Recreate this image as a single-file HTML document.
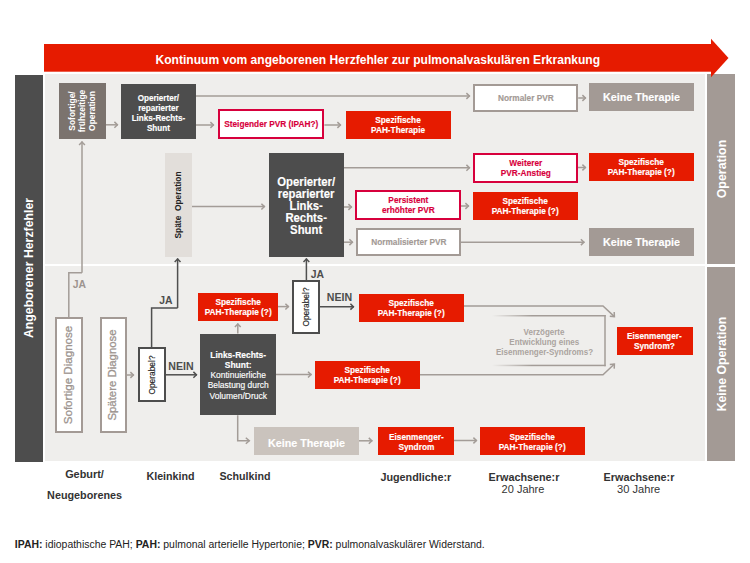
<!DOCTYPE html>
<html><head><meta charset="utf-8"><style>
html,body{margin:0;padding:0;background:#fff;}
body{width:750px;height:563px;position:relative;overflow:hidden;font-family:"Liberation Sans",sans-serif;}
</style></head><body>
<div style="position:absolute;left:45.3px;top:74.2px;width:660.20px;height:387.10px;background:#efeeec;"></div>
<div style="position:absolute;left:45.3px;top:264.2px;width:660.20px;height:2.20px;background:#fff;"></div>
<div style="position:absolute;left:15.2px;top:74.5px;width:28.00px;height:387.00px;background:#4d4d4d;"></div>
<div style="position:absolute;left:706.9px;top:74.3px;width:28.10px;height:189.70px;background:#a39a95;"></div>
<div style="position:absolute;left:706.9px;top:266.9px;width:28.10px;height:194.60px;background:#a39a95;"></div>
<div style="position:absolute;left:29.2px;top:268px;width:0;height:0"><div style="position:absolute;left:0;top:0;transform:translate(-50%,-50%) rotate(-90deg) scaleX(1);text-align:center;white-space:nowrap;font-size:12.3px;line-height:14.76px;font-weight:700;color:#fff;letter-spacing:0px;-webkit-text-stroke:0px #fff">Angeborener Herzfehler</div></div>
<div style="position:absolute;left:722px;top:168.5px;width:0;height:0"><div style="position:absolute;left:0;top:0;transform:translate(-50%,-50%) rotate(-90deg) scaleX(1);text-align:center;white-space:nowrap;font-size:12.4px;line-height:14.879999999999999px;font-weight:700;color:#fff;letter-spacing:0px;-webkit-text-stroke:0px #fff">Operation</div></div>
<div style="position:absolute;left:722px;top:364px;width:0;height:0"><div style="position:absolute;left:0;top:0;transform:translate(-50%,-50%) rotate(-90deg) scaleX(1);text-align:center;white-space:nowrap;font-size:12.25px;line-height:14.7px;font-weight:700;color:#fff;letter-spacing:0px;-webkit-text-stroke:0px #fff">Keine Operation</div></div>
<div style="position:absolute;left:59px;top:83px;width:47.00px;height:56.00px;box-sizing:border-box;background:#7b736e;display:flex;align-items:center;justify-content:center;text-align:center;white-space:nowrap;color:#fff;font-size:9.2px;line-height:10px;font-weight:700;letter-spacing:0px;"><span style="position:relative;top:0.2px;display:inline-block;transform:scaleX(0.9);-webkit-text-stroke:0.15px #fff"></span></div>
<div style="position:absolute;left:82.2px;top:111.2px;width:0;height:0"><div style="position:absolute;left:0;top:0;transform:translate(-50%,-50%) rotate(-90deg) scaleX(0.95);text-align:center;white-space:nowrap;font-size:8.9px;line-height:10px;font-weight:700;color:#fff;letter-spacing:0px;-webkit-text-stroke:0px #fff">Sofortige/<br>frühzeitige<br>Operation</div></div>
<div style="position:absolute;left:121px;top:84px;width:75.00px;height:55.40px;box-sizing:border-box;background:#4d4d4d;display:flex;align-items:center;justify-content:center;text-align:center;white-space:nowrap;color:#fff;font-size:9.2px;line-height:10.1px;font-weight:700;letter-spacing:0px;"><span style="position:relative;top:1.2px;display:inline-block;transform:scaleX(0.88);-webkit-text-stroke:0.15px #fff">Operierter/<br>reparierter<br>Links-Rechts-<br>Shunt</span></div>
<div style="position:absolute;left:218px;top:109.3px;width:106.40px;height:29.50px;box-sizing:border-box;background:#fff;border:2px solid #d7003c;display:flex;align-items:center;justify-content:center;text-align:center;white-space:nowrap;color:#d7003c;font-size:9.2px;line-height:10px;font-weight:700;letter-spacing:0px;"><span style="position:relative;top:0.2px;display:inline-block;transform:scaleX(0.9);-webkit-text-stroke:0.15px #d7003c">Steigender PVR (IPAH?)</span></div>
<div style="position:absolute;left:346px;top:111px;width:105.00px;height:28.00px;box-sizing:border-box;background:#e61b00;display:flex;align-items:center;justify-content:center;text-align:center;white-space:nowrap;color:#fff;font-size:9.2px;line-height:10px;font-weight:700;letter-spacing:0px;"><span style="position:relative;top:0.2px;display:inline-block;transform:scaleX(0.9);-webkit-text-stroke:0.15px #fff">Spezifische<br>PAH-Therapie</span></div>
<div style="position:absolute;left:473.4px;top:84px;width:104.80px;height:27.80px;box-sizing:border-box;background:#fff;border:2px solid #a39a95;display:flex;align-items:center;justify-content:center;text-align:center;white-space:nowrap;color:#a39a95;font-size:9.2px;line-height:10px;font-weight:700;letter-spacing:0px;"><span style="position:relative;top:0.2px;display:inline-block;transform:scaleX(0.9);-webkit-text-stroke:0.15px #a39a95">Normaler PVR</span></div>
<div style="position:absolute;left:589px;top:83px;width:105.00px;height:28.00px;box-sizing:border-box;background:#a39a95;display:flex;align-items:center;justify-content:center;text-align:center;white-space:nowrap;color:#fff;font-size:11.3px;line-height:10px;font-weight:700;letter-spacing:0px;"><span style="position:relative;top:0px;display:inline-block;transform:scaleX(0.95);-webkit-text-stroke:0.15px #fff">Keine Therapie</span></div>
<div style="position:absolute;left:165px;top:153px;width:27.00px;height:104.00px;box-sizing:border-box;background:#e2deda;display:flex;align-items:center;justify-content:center;text-align:center;white-space:nowrap;color:#fff;font-size:9.2px;line-height:10px;font-weight:700;letter-spacing:0px;"><span style="position:relative;top:0.2px;display:inline-block;transform:scaleX(0.9);-webkit-text-stroke:0.15px #fff"></span></div>
<div style="position:absolute;left:178.2px;top:204.6px;width:0;height:0"><div style="position:absolute;left:0;top:0;transform:translate(-50%,-50%) rotate(-90deg) scaleX(1);text-align:center;white-space:nowrap;font-size:8.4px;line-height:10.08px;font-weight:700;color:#222;letter-spacing:0px;-webkit-text-stroke:0px #222">Späte&nbsp; Operation</div></div>
<div style="position:absolute;left:269px;top:153px;width:75.00px;height:104.00px;box-sizing:border-box;background:#4d4d4d;display:flex;align-items:center;justify-content:center;text-align:center;white-space:nowrap;color:#fff;font-size:12.2px;line-height:11.9px;font-weight:700;letter-spacing:0px;"><span style="position:relative;top:2.2px;display:inline-block;transform:scaleX(0.93);-webkit-text-stroke:0.15px #fff">Operierter/<br>reparierter<br>Links-<br>Rechts-<br>Shunt</span></div>
<div style="position:absolute;left:473px;top:153px;width:105.00px;height:29.50px;box-sizing:border-box;background:#fff;border:2px solid #d7003c;display:flex;align-items:center;justify-content:center;text-align:center;white-space:nowrap;color:#d7003c;font-size:9.2px;line-height:10px;font-weight:700;letter-spacing:0px;"><span style="position:relative;top:0.2px;display:inline-block;transform:scaleX(0.9);-webkit-text-stroke:0.15px #d7003c">Weiterer<br>PVR-Anstieg</span></div>
<div style="position:absolute;left:589px;top:153px;width:105.00px;height:28.00px;box-sizing:border-box;background:#e61b00;display:flex;align-items:center;justify-content:center;text-align:center;white-space:nowrap;color:#fff;font-size:9.2px;line-height:10px;font-weight:700;letter-spacing:0px;"><span style="position:relative;top:0.2px;display:inline-block;transform:scaleX(0.9);-webkit-text-stroke:0.15px #fff">Spezifische<br>PAH-Therapie (?)</span></div>
<div style="position:absolute;left:355px;top:190px;width:106.00px;height:29.50px;box-sizing:border-box;background:#fff;border:2px solid #d7003c;display:flex;align-items:center;justify-content:center;text-align:center;white-space:nowrap;color:#d7003c;font-size:9.2px;line-height:10px;font-weight:700;letter-spacing:0px;"><span style="position:relative;top:0.2px;display:inline-block;transform:scaleX(0.9);-webkit-text-stroke:0.15px #d7003c">Persistent<br>erhöhter PVR</span></div>
<div style="position:absolute;left:473px;top:191.5px;width:105.00px;height:28.50px;box-sizing:border-box;background:#e61b00;display:flex;align-items:center;justify-content:center;text-align:center;white-space:nowrap;color:#fff;font-size:9.2px;line-height:10px;font-weight:700;letter-spacing:0px;"><span style="position:relative;top:0.2px;display:inline-block;transform:scaleX(0.9);-webkit-text-stroke:0.15px #fff">Spezifische<br>PAH-Therapie (?)</span></div>
<div style="position:absolute;left:356px;top:228px;width:105.00px;height:28.00px;box-sizing:border-box;background:#fff;border:2px solid #a39a95;display:flex;align-items:center;justify-content:center;text-align:center;white-space:nowrap;color:#a39a95;font-size:9.2px;line-height:10px;font-weight:700;letter-spacing:0px;"><span style="position:relative;top:0.2px;display:inline-block;transform:scaleX(0.9);-webkit-text-stroke:0.15px #a39a95">Normalisierter PVR</span></div>
<div style="position:absolute;left:589px;top:228.2px;width:105.00px;height:27.80px;box-sizing:border-box;background:#a39a95;display:flex;align-items:center;justify-content:center;text-align:center;white-space:nowrap;color:#fff;font-size:11.3px;line-height:10px;font-weight:700;letter-spacing:0px;"><span style="position:relative;top:0px;display:inline-block;transform:scaleX(0.95);-webkit-text-stroke:0.15px #fff">Keine Therapie</span></div>
<div style="position:absolute;left:54.9px;top:317px;width:27.70px;height:115.80px;box-sizing:border-box;background:#fff;border:2px solid #a39a95;display:flex;align-items:center;justify-content:center;text-align:center;white-space:nowrap;color:#fff;font-size:9.2px;line-height:10px;font-weight:700;letter-spacing:0px;"><span style="position:relative;top:0.2px;display:inline-block;transform:scaleX(0.9);-webkit-text-stroke:0.15px #fff"></span></div>
<div style="position:absolute;left:68.0px;top:374.7px;width:0;height:0"><div style="position:absolute;left:0;top:0;transform:translate(-50%,-50%) rotate(-90deg) scaleX(1);text-align:center;white-space:nowrap;font-size:11.6px;line-height:13.92px;font-weight:400;color:#9d948f;letter-spacing:0px;-webkit-text-stroke:0.3px #9d948f">Sofortige Diagnose</div></div>
<div style="position:absolute;left:99.7px;top:317px;width:27.60px;height:115.80px;box-sizing:border-box;background:#fff;border:2px solid #a39a95;display:flex;align-items:center;justify-content:center;text-align:center;white-space:nowrap;color:#fff;font-size:9.2px;line-height:10px;font-weight:700;letter-spacing:0px;"><span style="position:relative;top:0.2px;display:inline-block;transform:scaleX(0.9);-webkit-text-stroke:0.15px #fff"></span></div>
<div style="position:absolute;left:113.3px;top:374.5px;width:0;height:0"><div style="position:absolute;left:0;top:0;transform:translate(-50%,-50%) rotate(-90deg) scaleX(1);text-align:center;white-space:nowrap;font-size:11.4px;line-height:13.68px;font-weight:400;color:#9d948f;letter-spacing:0px;-webkit-text-stroke:0.3px #9d948f">Spätere Diagnose</div></div>
<div style="position:absolute;left:138px;top:347px;width:28.00px;height:55.00px;box-sizing:border-box;background:#fff;border:2px solid #4d4d4d;display:flex;align-items:center;justify-content:center;text-align:center;white-space:nowrap;color:#fff;font-size:9.2px;line-height:10px;font-weight:700;letter-spacing:0px;"><span style="position:relative;top:0.2px;display:inline-block;transform:scaleX(0.9);-webkit-text-stroke:0.15px #fff"></span></div>
<div style="position:absolute;left:152px;top:375px;width:0;height:0"><div style="position:absolute;left:0;top:0;transform:translate(-50%,-50%) rotate(-90deg) scaleX(1);text-align:center;white-space:nowrap;font-size:8.4px;line-height:10.08px;font-weight:400;color:#222;letter-spacing:0px;-webkit-text-stroke:0.15px #222">Operabel?</div></div>
<div style="position:absolute;left:292px;top:280px;width:28.00px;height:54.00px;box-sizing:border-box;background:#fff;border:2px solid #4d4d4d;display:flex;align-items:center;justify-content:center;text-align:center;white-space:nowrap;color:#fff;font-size:9.2px;line-height:10px;font-weight:700;letter-spacing:0px;"><span style="position:relative;top:0.2px;display:inline-block;transform:scaleX(0.9);-webkit-text-stroke:0.15px #fff"></span></div>
<div style="position:absolute;left:306px;top:307px;width:0;height:0"><div style="position:absolute;left:0;top:0;transform:translate(-50%,-50%) rotate(-90deg) scaleX(1);text-align:center;white-space:nowrap;font-size:8.4px;line-height:10.08px;font-weight:400;color:#222;letter-spacing:0px;-webkit-text-stroke:0.15px #222">Operabel?</div></div>
<div style="position:absolute;left:198px;top:293px;width:80.00px;height:27.50px;box-sizing:border-box;background:#e61b00;display:flex;align-items:center;justify-content:center;text-align:center;white-space:nowrap;color:#fff;font-size:9.2px;line-height:10px;font-weight:700;letter-spacing:0px;"><span style="position:relative;top:0.2px;display:inline-block;transform:scaleX(0.9);-webkit-text-stroke:0.15px #fff">Spezifische<br>PAH-Therapie (?)</span></div>
<div style="position:absolute;left:200.2px;top:333.5px;width:75.80px;height:81.70px;box-sizing:border-box;background:#4d4d4d;display:flex;align-items:center;justify-content:center;text-align:center;white-space:nowrap;color:#fff;font-size:9.2px;line-height:10.2px;font-weight:400;letter-spacing:0px;"><span style="position:relative;top:1px;display:inline-block;transform:scaleX(0.92);-webkit-text-stroke:0.15px #fff"><b>Links-Rechts-</b><br><b>Shunt:</b><br>Kontinuierliche<br>Belastung durch<br>Volumen/Druck</span></div>
<div style="position:absolute;left:359px;top:294px;width:105.00px;height:27.50px;box-sizing:border-box;background:#e61b00;display:flex;align-items:center;justify-content:center;text-align:center;white-space:nowrap;color:#fff;font-size:9.2px;line-height:10px;font-weight:700;letter-spacing:0px;"><span style="position:relative;top:0.2px;display:inline-block;transform:scaleX(0.9);-webkit-text-stroke:0.15px #fff">Spezifische<br>PAH-Therapie (?)</span></div>
<div style="position:absolute;left:314.5px;top:361px;width:105.50px;height:27.50px;box-sizing:border-box;background:#e61b00;display:flex;align-items:center;justify-content:center;text-align:center;white-space:nowrap;color:#fff;font-size:9.2px;line-height:10px;font-weight:700;letter-spacing:0px;"><span style="position:relative;top:0.2px;display:inline-block;transform:scaleX(0.9);-webkit-text-stroke:0.15px #fff">Spezifische<br>PAH-Therapie (?)</span></div>
<div style="position:absolute;left:616.5px;top:326.5px;width:76.50px;height:28.00px;box-sizing:border-box;background:#e61b00;display:flex;align-items:center;justify-content:center;text-align:center;white-space:nowrap;color:#fff;font-size:9.2px;line-height:10px;font-weight:700;letter-spacing:0px;"><span style="position:relative;top:0.2px;display:inline-block;transform:scaleX(0.9);-webkit-text-stroke:0.15px #fff">Eisenmenger-<br>Syndrom?</span></div>
<div style="position:absolute;left:254px;top:427px;width:105.00px;height:28.00px;box-sizing:border-box;background:#cac3bd;display:flex;align-items:center;justify-content:center;text-align:center;white-space:nowrap;color:#fff;font-size:11.3px;line-height:10px;font-weight:700;letter-spacing:0px;"><span style="position:relative;top:1.6px;display:inline-block;transform:scaleX(0.95);-webkit-text-stroke:0.15px #fff">Keine Therapie</span></div>
<div style="position:absolute;left:378px;top:427px;width:76.00px;height:28.00px;box-sizing:border-box;background:#e61b00;display:flex;align-items:center;justify-content:center;text-align:center;white-space:nowrap;color:#fff;font-size:9.2px;line-height:10px;font-weight:700;letter-spacing:0px;"><span style="position:relative;top:0.8px;display:inline-block;transform:scaleX(0.9);-webkit-text-stroke:0.15px #fff">Eisenmenger-<br>Syndrom</span></div>
<div style="position:absolute;left:480px;top:427px;width:105.00px;height:28.00px;box-sizing:border-box;background:#e61b00;display:flex;align-items:center;justify-content:center;text-align:center;white-space:nowrap;color:#fff;font-size:9.2px;line-height:10px;font-weight:700;letter-spacing:0px;"><span style="position:relative;top:0.8px;display:inline-block;transform:scaleX(0.9);-webkit-text-stroke:0.15px #fff">Spezifische<br>PAH-Therapie (?)</span></div>
<div style="position:absolute;left:-420.7px;width:1000px;top:278.66px;text-align:center;font-size:10.4px;line-height:12.48px;font-weight:700;color:#9d948f;letter-spacing:0px;white-space:nowrap"><span style="display:inline-block;transform:scaleX(1);-webkit-text-stroke:0px #9d948f">JA</span></div>
<div style="position:absolute;left:-334px;width:1000px;top:294.76px;text-align:center;font-size:10.4px;line-height:12.48px;font-weight:700;color:#4d4d4d;letter-spacing:0px;white-space:nowrap"><span style="display:inline-block;transform:scaleX(1);-webkit-text-stroke:0px #4d4d4d">JA</span></div>
<div style="position:absolute;left:-182.5px;width:1000px;top:269.16px;text-align:center;font-size:10.4px;line-height:12.48px;font-weight:700;color:#4d4d4d;letter-spacing:0px;white-space:nowrap"><span style="display:inline-block;transform:scaleX(1);-webkit-text-stroke:0px #4d4d4d">JA</span></div>
<div style="position:absolute;left:-319px;width:1000px;top:359.77px;text-align:center;font-size:10.6px;line-height:12.719999999999999px;font-weight:700;color:#4d4d4d;letter-spacing:0px;white-space:nowrap"><span style="display:inline-block;transform:scaleX(1);-webkit-text-stroke:0px #4d4d4d">NEIN</span></div>
<div style="position:absolute;left:-160.5px;width:1000px;top:290.77px;text-align:center;font-size:10.6px;line-height:12.719999999999999px;font-weight:700;color:#4d4d4d;letter-spacing:0px;white-space:nowrap"><span style="display:inline-block;transform:scaleX(1);-webkit-text-stroke:0px #4d4d4d">NEIN</span></div>
<div style="position:absolute;left:44.39999999999998px;width:1000px;top:327.08px;text-align:center;font-size:9px;line-height:10.799999999999999px;font-weight:700;color:#aba49f;letter-spacing:0px;white-space:nowrap"><span style="display:inline-block;transform:scaleX(0.89);-webkit-text-stroke:0px #aba49f">Verzögerte</span></div>
<div style="position:absolute;left:44.39999999999998px;width:1000px;top:337.48px;text-align:center;font-size:9px;line-height:10.799999999999999px;font-weight:700;color:#aba49f;letter-spacing:0px;white-space:nowrap"><span style="display:inline-block;transform:scaleX(0.89);-webkit-text-stroke:0px #aba49f">Entwicklung eines</span></div>
<div style="position:absolute;left:44.39999999999998px;width:1000px;top:347.48px;text-align:center;font-size:9px;line-height:10.799999999999999px;font-weight:700;color:#aba49f;letter-spacing:0px;white-space:nowrap"><span style="display:inline-block;transform:scaleX(0.89);-webkit-text-stroke:0px #aba49f">Eisenmenger-Syndroms?</span></div>
<svg style="position:absolute;left:0;top:0" width="750" height="563"><rect x="44" y="44" width="667.5" height="27.7" fill="#e61b00"/><polygon points="711,38.7 728.5,58 711,77.3" fill="#e61b00"/></svg>
<div style="position:absolute;left:-122.19999999999999px;width:1000px;top:53.29px;text-align:center;font-size:12.05px;line-height:14.46px;font-weight:700;color:#fff;letter-spacing:0px;white-space:nowrap"><span style="display:inline-block;transform:scaleX(1);-webkit-text-stroke:0px #fff">Kontinuum vom angeborenen Herzfehler zur pulmonalvaskulären Erkrankung</span></div>
<svg style="position:absolute;left:0;top:0" width="750" height="563"><path d="M106 124.8 H118" stroke="#a39c97" stroke-width="1.5" fill="none"/><path d="M114.4 121.89999999999999 L117.4 124.8 L114.4 127.7" stroke="#a39c97" stroke-width="1.5" fill="none"/><path d="M196 96 H470" stroke="#a39c97" stroke-width="1.5" fill="none"/><path d="M466.4 93.1 L469.4 96 L466.4 98.9" stroke="#a39c97" stroke-width="1.5" fill="none"/><path d="M196 125 H214" stroke="#a39c97" stroke-width="1.5" fill="none"/><path d="M210.4 122.1 L213.4 125 L210.4 127.9" stroke="#a39c97" stroke-width="1.5" fill="none"/><path d="M324.4 125 H341" stroke="#a39c97" stroke-width="1.5" fill="none"/><path d="M337.4 122.1 L340.4 125 L337.4 127.9" stroke="#a39c97" stroke-width="1.5" fill="none"/><path d="M578.2 98 H586" stroke="#a39c97" stroke-width="1.5" fill="none"/><path d="M582.4 95.1 L585.4 98 L582.4 100.9" stroke="#a39c97" stroke-width="1.5" fill="none"/><path d="M82 272.8 V141.5" stroke="#a39c97" stroke-width="1.5" fill="none"/><path d="M79.1 145.1 L82 142.1 L84.9 145.1" stroke="#a39c97" stroke-width="1.5" fill="none"/><path d="M82 272.8 L68.8 272.8 L68.8 317" stroke="#a39c97" stroke-width="1.5" fill="none"/><path d="M192 206.6 H265" stroke="#a39c97" stroke-width="1.5" fill="none"/><path d="M261.4 203.7 L264.4 206.6 L261.4 209.5" stroke="#a39c97" stroke-width="1.5" fill="none"/><path d="M344 167.8 H470" stroke="#a39c97" stroke-width="1.5" fill="none"/><path d="M466.4 164.9 L469.4 167.8 L466.4 170.70000000000002" stroke="#a39c97" stroke-width="1.5" fill="none"/><path d="M344 207 H352" stroke="#a39c97" stroke-width="1.5" fill="none"/><path d="M348.4 204.1 L351.4 207 L348.4 209.9" stroke="#a39c97" stroke-width="1.5" fill="none"/><path d="M578 167.5 H586" stroke="#a39c97" stroke-width="1.5" fill="none"/><path d="M582.4 164.6 L585.4 167.5 L582.4 170.4" stroke="#a39c97" stroke-width="1.5" fill="none"/><path d="M461 206 H469" stroke="#a39c97" stroke-width="1.5" fill="none"/><path d="M465.4 203.1 L468.4 206 L465.4 208.9" stroke="#a39c97" stroke-width="1.5" fill="none"/><path d="M344 242.2 H353" stroke="#a39c97" stroke-width="1.5" fill="none"/><path d="M349.4 239.29999999999998 L352.4 242.2 L349.4 245.1" stroke="#a39c97" stroke-width="1.5" fill="none"/><path d="M461 242.2 H584.5" stroke="#a39c97" stroke-width="1.5" fill="none"/><path d="M580.9 239.29999999999998 L583.9 242.2 L580.9 245.1" stroke="#a39c97" stroke-width="1.5" fill="none"/><path d="M151.6 347 L151.6 308 L177.6 308" stroke="#4f4f4f" stroke-width="1.5" fill="none"/><path d="M177.6 308 V258.5" stroke="#4f4f4f" stroke-width="1.5" fill="none"/><path d="M174.7 262.1 L177.6 259.1 L180.5 262.1" stroke="#4f4f4f" stroke-width="1.5" fill="none"/><path d="M306.4 280 V258.5" stroke="#4f4f4f" stroke-width="1.5" fill="none"/><path d="M303.5 262.1 L306.4 259.1 L309.29999999999995 262.1" stroke="#4f4f4f" stroke-width="1.5" fill="none"/><path d="M166 374.8 H197" stroke="#4f4f4f" stroke-width="1.5" fill="none"/><path d="M193.4 371.90000000000003 L196.4 374.8 L193.4 377.7" stroke="#4f4f4f" stroke-width="1.5" fill="none"/><path d="M320 306.7 H354" stroke="#4f4f4f" stroke-width="1.5" fill="none"/><path d="M350.4 303.8 L353.4 306.7 L350.4 309.59999999999997" stroke="#4f4f4f" stroke-width="1.5" fill="none"/><path d="M127 375 H134" stroke="#a39c97" stroke-width="1.5" fill="none"/><path d="M130.4 372.1 L133.4 375 L130.4 377.9" stroke="#a39c97" stroke-width="1.5" fill="none"/><path d="M237.8 333.5 V323.5" stroke="#a39c97" stroke-width="1.5" fill="none"/><path d="M234.9 327.1 L237.8 324.1 L240.70000000000002 327.1" stroke="#a39c97" stroke-width="1.5" fill="none"/><path d="M278 306.6 H289" stroke="#a39c97" stroke-width="1.5" fill="none"/><path d="M285.4 303.70000000000005 L288.4 306.6 L285.4 309.5" stroke="#a39c97" stroke-width="1.5" fill="none"/><path d="M276 374.6 H311.6" stroke="#a39c97" stroke-width="1.5" fill="none"/><path d="M308.0 371.70000000000005 L311.0 374.6 L308.0 377.5" stroke="#a39c97" stroke-width="1.5" fill="none"/><path d="M237.7 415.2 L237.7 440.8 L249.3 440.8" stroke="#a39c97" stroke-width="1.5" fill="none"/><path d="M245.8 437.8 L249.3 440.8 L245.8 443.8" stroke="#a39c97" stroke-width="1.5" fill="none"/><path d="M359 440.8 H372.4" stroke="#a39c97" stroke-width="1.5" fill="none"/><path d="M368.79999999999995 437.90000000000003 L371.79999999999995 440.8 L368.79999999999995 443.7" stroke="#a39c97" stroke-width="1.5" fill="none"/><path d="M454 440.5 H477" stroke="#a39c97" stroke-width="1.5" fill="none"/><path d="M473.4 437.6 L476.4 440.5 L473.4 443.4" stroke="#a39c97" stroke-width="1.5" fill="none"/><path d="M464 306 L603 306 L614.4 316.6" stroke="#a39c97" stroke-width="1.5" fill="none"/><path d="M609.8 316.2 L614.4 316.6 L614.2 312" stroke="#a39c97" stroke-width="1.5" fill="none"/><path d="M420 374.8 L603 374.8 L614.4 364" stroke="#a39c97" stroke-width="1.5" fill="none"/><path d="M609.8 364.4 L614.4 364 L614.2 368.6" stroke="#a39c97" stroke-width="1.5" fill="none"/><defs><linearGradient id="g" x1="0" x2="1"><stop offset="0" stop-color="#a39c97" stop-opacity="0"/><stop offset="0.35" stop-color="#a39c97"/></linearGradient></defs><rect x="492" y="315" width="113.7" height="1.5" fill="url(#g)"/><rect x="492" y="364.7" width="113.7" height="1.5" fill="url(#g)"/><path d="M605 315 V366.2" stroke="#a39c97" stroke-width="1.5" fill="none"/></svg>
<div style="position:absolute;left:-415.5px;width:1000px;top:468.18px;text-align:center;font-size:10.9px;line-height:13.08px;font-weight:700;color:#333333;letter-spacing:0px;white-space:nowrap"><span style="display:inline-block;transform:scaleX(1);-webkit-text-stroke:0px #333333">Geburt/</span></div>
<div style="position:absolute;left:-415.4px;width:1000px;top:489.28px;text-align:center;font-size:10.8px;line-height:12.96px;font-weight:700;color:#333333;letter-spacing:0px;white-space:nowrap"><span style="display:inline-block;transform:scaleX(1);-webkit-text-stroke:0px #333333">Neugeborenes</span></div>
<div style="position:absolute;left:-329.5px;width:1000px;top:470.07px;text-align:center;font-size:10.7px;line-height:12.839999999999998px;font-weight:700;color:#333333;letter-spacing:0px;white-space:nowrap"><span style="display:inline-block;transform:scaleX(1);-webkit-text-stroke:0px #333333">Kleinkind</span></div>
<div style="position:absolute;left:-255px;width:1000px;top:470.07px;text-align:center;font-size:10.7px;line-height:12.839999999999998px;font-weight:700;color:#333333;letter-spacing:0px;white-space:nowrap"><span style="display:inline-block;transform:scaleX(1);-webkit-text-stroke:0px #333333">Schulkind</span></div>
<div style="position:absolute;left:-84.19999999999999px;width:1000px;top:471.38px;text-align:center;font-size:10.8px;line-height:12.96px;font-weight:700;color:#333333;letter-spacing:0px;white-space:nowrap"><span style="display:inline-block;transform:scaleX(1);-webkit-text-stroke:0px #333333">Jugendliche:r</span></div>
<div style="position:absolute;left:24px;width:1000px;top:471.38px;text-align:center;font-size:10.8px;line-height:12.96px;font-weight:700;color:#333333;letter-spacing:0px;white-space:nowrap"><span style="display:inline-block;transform:scaleX(1);-webkit-text-stroke:0px #333333">Erwachsene:r</span></div>
<div style="position:absolute;left:23px;width:1000px;top:483.19px;text-align:center;font-size:11px;line-height:13.2px;font-weight:400;color:#333333;letter-spacing:0px;white-space:nowrap"><span style="display:inline-block;transform:scaleX(1);-webkit-text-stroke:0px #333333">20 Jahre</span></div>
<div style="position:absolute;left:139px;width:1000px;top:471.38px;text-align:center;font-size:10.8px;line-height:12.96px;font-weight:700;color:#333333;letter-spacing:0px;white-space:nowrap"><span style="display:inline-block;transform:scaleX(1);-webkit-text-stroke:0px #333333">Erwachsene:r</span></div>
<div style="position:absolute;left:138.70000000000005px;width:1000px;top:483.09px;text-align:center;font-size:11.1px;line-height:13.319999999999999px;font-weight:400;color:#333333;letter-spacing:0px;white-space:nowrap"><span style="display:inline-block;transform:scaleX(1);-webkit-text-stroke:0px #333333">30 Jahre</span></div>
<div style="position:absolute;left:14.8px;top:538.72px;font-size:10.44px;line-height:12.527999999999999px;font-weight:400;color:#222;letter-spacing:0px;white-space:nowrap"><b>IPAH:</b> idiopathische PAH; <b>PAH:</b> pulmonal arterielle Hypertonie; <b>PVR:</b> pulmonalvaskulärer Widerstand.</div>
</body></html>
